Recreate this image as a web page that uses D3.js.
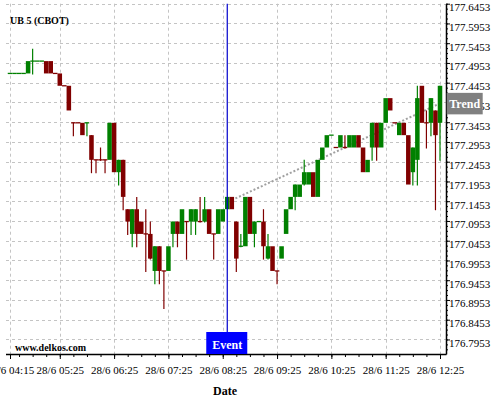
<!DOCTYPE html>
<html>
<head>
<meta charset="utf-8">
<script src="https://cdn.jsdelivr.net/npm/d3@7"></script>
<style>
  html, body { margin: 0; padding: 0; background: #fff; }
  svg { display: block; font-family: "Liberation Serif", "Times New Roman", serif; }
</style>
</head>
<body>
<svg id="chart" width="500" height="400"></svg>
<script>
// 5-minute bars, 28/6
const categories = ("04:15 04:20 04:25 04:30 04:35 04:40 04:45 04:50 04:55 05:10 05:20 " +
  "05:25 05:30 05:35 05:40 05:45 05:50 05:55 06:00 06:05 06:10 06:15 06:20 06:25 " +
  "06:30 06:35 06:40 06:45 06:50 06:55 07:00 07:05 07:10 07:15 07:20 07:25 " +
  "07:30 07:35 07:40 07:45 07:50 07:55 08:00 08:05 08:10 08:15 08:20 08:25 " +
  "08:30 08:35 08:40 08:45 08:50 08:55 09:00 09:05 09:10 09:15 09:20 09:25 " +
  "09:30 09:35 09:40 09:45 09:50 09:55 10:00 10:05 10:10 10:15 10:20 10:25 " +
  "10:30 10:35 10:40 10:45 10:50 10:55 11:00 11:05 11:10 11:15 11:20 11:25 " +
  "11:30 11:35 11:40 11:45 11:50 11:55 12:00 12:05 12:10 12:15 12:20 12:25").split(" ");

// Prices quoted in 32nds above 177 (UB bond futures tick = 1/32)
const priceBase = 177;
const open32  = [15,15,15,15,15,16,16,16,16,16,15,15,14,14,11,11,11,11,10, 8, 8, 8, 8,11, 7, 8, 4, 2, 4, 3, 2, 2,-1, 1,-1,-1, 2, 3, 2, 3, 3, 3, 3, 3, 4, 2, 2, 3, 4, 5, 3, 1, 1, 5, 2, 3, 3, 0, 1,-1, 0, 2, 4, 5, 5, 6, 6, 7, 5, 8, 9,10, 9, 9, 9, 9, 9,10, 9, 7, 9,11, 9,11,13,11,10,11,10, 7, 8,14,11,11,12,11];
const high32  = [15,15,15,15,16,17,16,16,16,16,15,15,14,14,11,11,11,11,10, 8, 9, 8,11,11, 8, 8, 4, 4, 5, 3, 4, 3, 1, 1,-1, 1, 3, 3, 4, 3, 4, 4, 5, 5, 4, 2, 4, 4, 5, 5, 3, 2, 5, 5, 3, 3, 4, 2, 1,-1, 1, 4, 5, 6, 6, 8, 7, 7, 8, 9,10,10, 9,10,10,10,10,10, 9, 8,11,11,11,13,13,11,11,11,10, 9,14,14,12,13,12,14];
const low32   = [15,15,15,15,15,15,16,16,15,15,15,14,14,12,10,11,10,10, 7, 7, 8, 7, 8, 7, 6, 4, 2, 1, 1, 2,-1, 0,-2,-2,-4,-1, 1, 1, 2, 0, 2, 2, 3, 3, 2, 0, 2, 3, 4, 4,-1, 1, 1, 2, 1, 3, 0, 0,-1,-2, 0, 2, 4, 4, 5, 6, 6, 5, 5, 8, 9,10, 9, 9, 9, 9, 9, 9, 7, 7, 8, 8, 9,11,12,11,10,10, 6, 6, 6,11, 9,10, 4, 8];
const close32 = [15,15,15,15,16,16,16,16,15,15,15,14,14,12,11,11,10,11, 8, 8, 8, 8,11, 7, 8, 5, 3, 4, 2, 2, 2, 0, 1,-1,-1, 1, 3, 2, 4, 3, 4, 4, 3, 4, 2, 2, 4, 4, 5, 4, 0, 1, 5, 2, 3, 3, 1, 1,-1,-1, 1, 4, 5, 6, 6, 7, 7, 5, 8, 9,10,10, 9,10, 9,10,10, 9, 7, 8,11, 9,11,13,12,11,11,10, 6, 9,13,11,11,13,10,14];

const xTickLabels = ["04:15","05:25","06:25","07:25","08:25","09:25","10:25","11:25","12:25"];
const yTickValues = [177.6453,177.5953,177.5453,177.4953,177.4453,177.3953,177.3453,177.2953,
                     177.2453,177.1953,177.1453,177.0953,177.0453,176.9953,176.9453,176.8953,176.8453,176.7953];
const eventTime = "08:30";
const trendStart = { time: "08:35", price: 177.148 };
const trendEnd   = { time: "12:25", price: 177.393 };
const title = "UB 5 (CBOT)";
const datePrefix = "28/6 ";

const upColor = "#008000", downColor = "#800000";

const svg = d3.select("#chart");
const plotLeft = 6, plotRight = 446, plotTop = 3.7, plotBottom = 354;

const x = d3.scalePoint().domain(categories).range([10, 440]);
const step = x.step();
const y = d3.scaleLinear().domain([176.7585, 177.6453]).range([plotBottom, plotTop]);
const p = n => priceBase + n / 32;

const bars = categories.map((t, i) => ({
  t, o: p(open32[i]), h: p(high32[i]), l: p(low32[i]), c: p(close32[i])
}));
let prevColor = upColor;
bars.forEach((b, i) => {
  let col;
  if (b.c > b.o) col = upColor;
  else if (b.c < b.o) col = downColor;
  else if (i > 0 && b.c > bars[i-1].c) col = upColor;
  else if (i > 0 && b.c < bars[i-1].c) col = downColor;
  else col = prevColor;
  b.color = col; prevColor = col;
});

// grid
const grid = svg.append("g").attr("stroke", "#c4c4c4").attr("stroke-dasharray", "3,3").attr("stroke-width", 1);
grid.selectAll(".hg").data(yTickValues).join("line")
  .attr("x1", plotLeft).attr("x2", plotRight)
  .attr("y1", d => Math.round(y(d)) + 0.5).attr("y2", d => Math.round(y(d)) + 0.5);
grid.selectAll(".vg").data(xTickLabels).join("line")
  .attr("x1", d => Math.round(x(d)) + 0.5).attr("x2", d => Math.round(x(d)) + 0.5)
  .attr("y1", plotTop).attr("y2", plotBottom);

// trend line
svg.append("line")
  .attr("x1", x(trendStart.time)).attr("y1", y(trendStart.price))
  .attr("x2", x(trendEnd.time)).attr("y2", y(trendEnd.price))
  .attr("stroke", "#a0a0a0").attr("stroke-width", 2).attr("stroke-dasharray", "2,2");

// candles
const cg = svg.append("g");
cg.selectAll(".wick").data(bars.filter(b => b.h > Math.max(b.o, b.c) || b.l < Math.min(b.o, b.c))).join("line")
  .attr("x1", d => x(d.t)).attr("x2", d => x(d.t))
  .attr("y1", d => y(d.h)).attr("y2", d => y(d.l) + 1)
  .attr("stroke", d => d.color).attr("stroke-width", 1.2);
cg.selectAll(".body").data(bars.filter(b => b.o !== b.c)).join("rect")
  .attr("x", d => x(d.t) - step / 2).attr("width", step)
  .attr("y", d => y(Math.max(d.o, d.c)))
  .attr("height", d => Math.abs(y(d.o) - y(d.c)))
  .attr("fill", d => d.color);
cg.selectAll(".doji").data(bars.filter(b => b.o === b.c)).join("line")
  .attr("x1", d => x(d.t) - step / 2).attr("x2", d => x(d.t) + step / 2)
  .attr("y1", d => y(d.c)).attr("y2", d => y(d.c))
  .attr("stroke", d => d.color).attr("stroke-width", 1.3);

// axes
const xAxis = svg.append("g").attr("transform", `translate(0,${plotBottom})`)
  .call(d3.axisBottom(x).tickValues(xTickLabels).tickSize(5).tickSizeOuter(0)
    .tickFormat(d => datePrefix + d));
xAxis.select(".domain").remove();
xAxis.selectAll("text").attr("y", 12).attr("font-size", 11).attr("font-family", "Liberation Serif").attr("fill", "#000");
const xMinor = categories.filter((d, i) => i % 3 === 2);
const xAxisMinor = svg.append("g").attr("transform", `translate(0,${plotBottom})`)
  .call(d3.axisBottom(x).tickValues(xMinor).tickSize(3).tickSizeOuter(0).tickFormat(""));
xAxisMinor.select(".domain").remove();
svg.append("line").attr("x1", plotLeft).attr("x2", plotRight + 0.5)
  .attr("y1", plotBottom + 0.5).attr("y2", plotBottom + 0.5).attr("stroke", "#000").attr("stroke-width", 1.5);

const yAxis = svg.append("g").attr("transform", `translate(${plotRight},0)`)
  .call(d3.axisRight(y).tickValues(yTickValues).tickSize(4).tickSizeOuter(0).tickFormat(d3.format(".4f")));
yAxis.select(".domain").attr("stroke-width", 1.5);
yAxis.selectAll("text").attr("x", 3).attr("dy", "0.62em").attr("font-size", 11)
  .attr("font-family", "Liberation Serif").attr("fill", "#000");
const yMinor = [];
for (let v = yTickValues[0]; v > y.domain()[0]; v -= 0.0125) yMinor.push(v);
svg.append("g").attr("transform", `translate(${plotRight},0)`)
  .call(d3.axisRight(y).tickValues(yMinor).tickSize(2).tickSizeOuter(0).tickFormat(""))
  .select(".domain").remove();

// title & watermark
svg.append("text").attr("x", 10).attr("y", 24).attr("font-size", 10).attr("font-weight", "bold").text(title);
svg.append("text").attr("x", 15).attr("y", 351).attr("font-size", 10).attr("font-weight", "bold").text("www.delkos.com");
svg.append("text").attr("x", 225).attr("y", 395).attr("text-anchor", "middle").attr("font-size", 12)
  .attr("font-weight", "bold").text("Date");

// event marker
const ex = x(eventTime);
svg.append("line").attr("x1", ex).attr("x2", ex).attr("y1", plotTop).attr("y2", plotBottom - 22)
  .attr("stroke", "#0000cc").attr("stroke-width", 1.2);
svg.append("rect").attr("x", ex - 21).attr("y", plotBottom - 22).attr("width", 41).attr("height", 22).attr("fill", "#0000ff");
svg.append("text").attr("x", ex).attr("y", plotBottom - 5).attr("text-anchor", "middle").attr("font-size", 12)
  .attr("font-weight", "bold").attr("fill", "#fff").text("Event");

// trend label
const ty = y(trendEnd.price);
svg.append("rect").attr("x", plotRight + 0.7).attr("y", ty - 10.5).attr("width", 36).attr("height", 21.5).attr("fill", "#808080");
svg.append("text").attr("x", plotRight + 18.7).attr("y", ty + 4.5).attr("text-anchor", "middle").attr("font-size", 12)
  .attr("font-weight", "bold").attr("fill", "#fff").text("Trend");
</script>
</body>
</html>
